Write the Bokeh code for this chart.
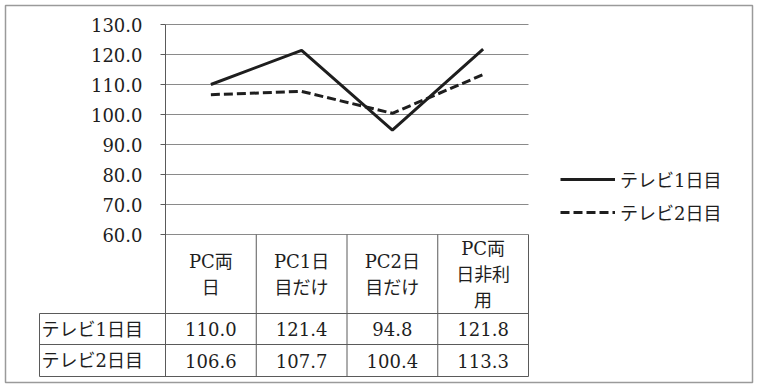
from bokeh.plotting import figure
from bokeh.models import (Range1d, FixedTicker, PrintfTickFormatter, ColumnDataSource,
                          Legend, LegendItem)
from bokeh.core.properties import value
from bokeh.embed import file_html
from bokeh.resources import INLINE

# ---- data ----
categories = ["PC両日", "PC1日目だけ", "PC2日目だけ", "PC両日非利用"]
header_labels = ["PC両\n日", "PC1日\n目だけ", "PC2日\n目だけ", "PC両\n日非利\n用"]
series_names = ["テレビ1日目", "テレビ2日目"]
tv_day1 = [110.0, 121.4, 94.8, 121.8]
tv_day2 = [106.6, 107.7, 100.4, 113.3]
y_ticks = [60, 70, 80, 90, 100, 110, 120, 130]

# ---- layout helpers (pixel -> data) ----
W, H = 759, 384
F_LEFT, F_RIGHT, F_TOP, F_BOTTOM = 5, 752, 5, 382   # outer box = plot frame
AX_X = 165             # pixel column of the value axis
PLOT_TOP = 24          # pixel row of the top gridline
PX_X = 90.75           # pixels per category column
PX_Y = 3.0             # pixels per value unit
YMAX = y_ticks[-1]
YMIN = y_ticks[0]
NC = len(categories)


def sx(px):
    return (px - AX_X) / PX_X


def sy(py):
    return YMAX - (py - PLOT_TOP) / PX_Y


FONT_CSS = "'DejaVu Serif', 'Noto Sans CJK JP', serif"
FONT = value(FONT_CSS)
INK = "#1e1e1e"
TABLE_LINE = "#5a5a5a"
GRID = "#8a8a8a"

p = figure(width=W, height=H, output_backend="svg", toolbar_location=None,
           x_range=Range1d(sx(F_LEFT), sx(F_RIGHT)), y_range=Range1d(sy(F_BOTTOM), sy(F_TOP)),
           x_axis_location=None, y_axis_location="left",
           min_border_left=F_LEFT, min_border_right=W - F_RIGHT,
           min_border_top=F_TOP, min_border_bottom=H - F_BOTTOM,
           background_fill_color="white", border_fill_color="white")
p.outline_line_color = "#9a9a9a"
p.outline_line_width = 1.5

# value axis, pinned at the left edge of the category area
ax = p.yaxis[0]
ax.fixed_location = 0
ax.ticker = FixedTicker(ticks=y_ticks)
ax.formatter = PrintfTickFormatter(format="%.1f")
ax.bounds = (sy(376), YMAX)
ax.major_tick_out = 5
ax.major_tick_in = 0
ax.minor_tick_out = 0
ax.minor_tick_in = 0
ax.axis_line_color = TABLE_LINE
ax.major_tick_line_color = TABLE_LINE
ax.major_label_standoff = 18
ax.major_label_text_font = "DejaVu Serif"
ax.major_label_text_font_size = "18px"
ax.major_label_text_color = INK

# horizontal gridlines only across the category area
p.xgrid.visible = False
p.ygrid.visible = False
p.segment(x0=[0] * len(y_ticks), y0=y_ticks, x1=[NC] * len(y_ticks), y1=y_ticks,
          line_color=GRID, line_width=1)

# lines
xc = [i + 0.5 for i in range(NC)]
r1 = p.line(xc, tv_day1, line_width=3, line_color=INK)
r2 = p.line(xc, tv_day2, line_width=3, line_color=INK, line_dash="9 4")

# ---- data table under the chart ----
table_bottom = sy(376)
row_lines = [sy(313), sy(344), table_bottom]
col_edges = list(range(NC + 1))
tx0 = col_edges + [sx(39)] + [sx(39)] * len(row_lines)
ty0 = [YMIN] * len(col_edges) + [row_lines[0]] + row_lines
tx1 = col_edges + [sx(39)] + [NC] * len(row_lines)
ty1 = [table_bottom] * len(col_edges) + [table_bottom] + row_lines
p.segment(x0=tx0, y0=ty0, x1=tx1, y1=ty1, line_color=TABLE_LINE, line_width=1)

# header texts
p.text(x=xc, y=[sy(274)] * NC, text=header_labels, text_align="center",
       text_baseline="middle", text_font=FONT, text_font_size="18px",
       text_line_height=1.25, text_color=INK)

# values
vals_src = ColumnDataSource(dict(
    x=xc + xc,
    y=[sy(328.5)] * NC + [sy(360)] * NC,
    t=[f"{v:.1f}" for v in tv_day1] + [f"{v:.1f}" for v in tv_day2],
))
p.text(x="x", y="y", text="t", source=vals_src, text_align="center",
       text_baseline="middle", text_font=FONT, text_font_size="18px", text_color=INK)

# row labels
row_src = ColumnDataSource(dict(x=[sx(41)] * 2, y=[sy(328.5), sy(360)], name=series_names))
p.text(x="x", y="y", text="name", source=row_src, text_align="left",
       text_baseline="middle", text_font=FONT, text_font_size="18px", text_color=INK)

# legend
legend = Legend(items=[LegendItem(label=series_names[0], renderers=[r1]),
                       LegendItem(label=series_names[1], renderers=[r2])],
                location=(560 - F_LEFT, F_BOTTOM - 225), orientation="vertical")
legend.glyph_width = 55
legend.glyph_height = 20
legend.label_height = 20
legend.spacing = 7
legend.padding = 0
legend.margin = 0
legend.label_standoff = 5
legend.border_line_color = None
legend.background_fill_alpha = 0
legend.label_text_font = FONT_CSS
legend.label_text_font_size = "18px"
legend.label_text_color = INK
p.add_layout(legend, "center")

open("out.html", "w").write(file_html(p, INLINE))
